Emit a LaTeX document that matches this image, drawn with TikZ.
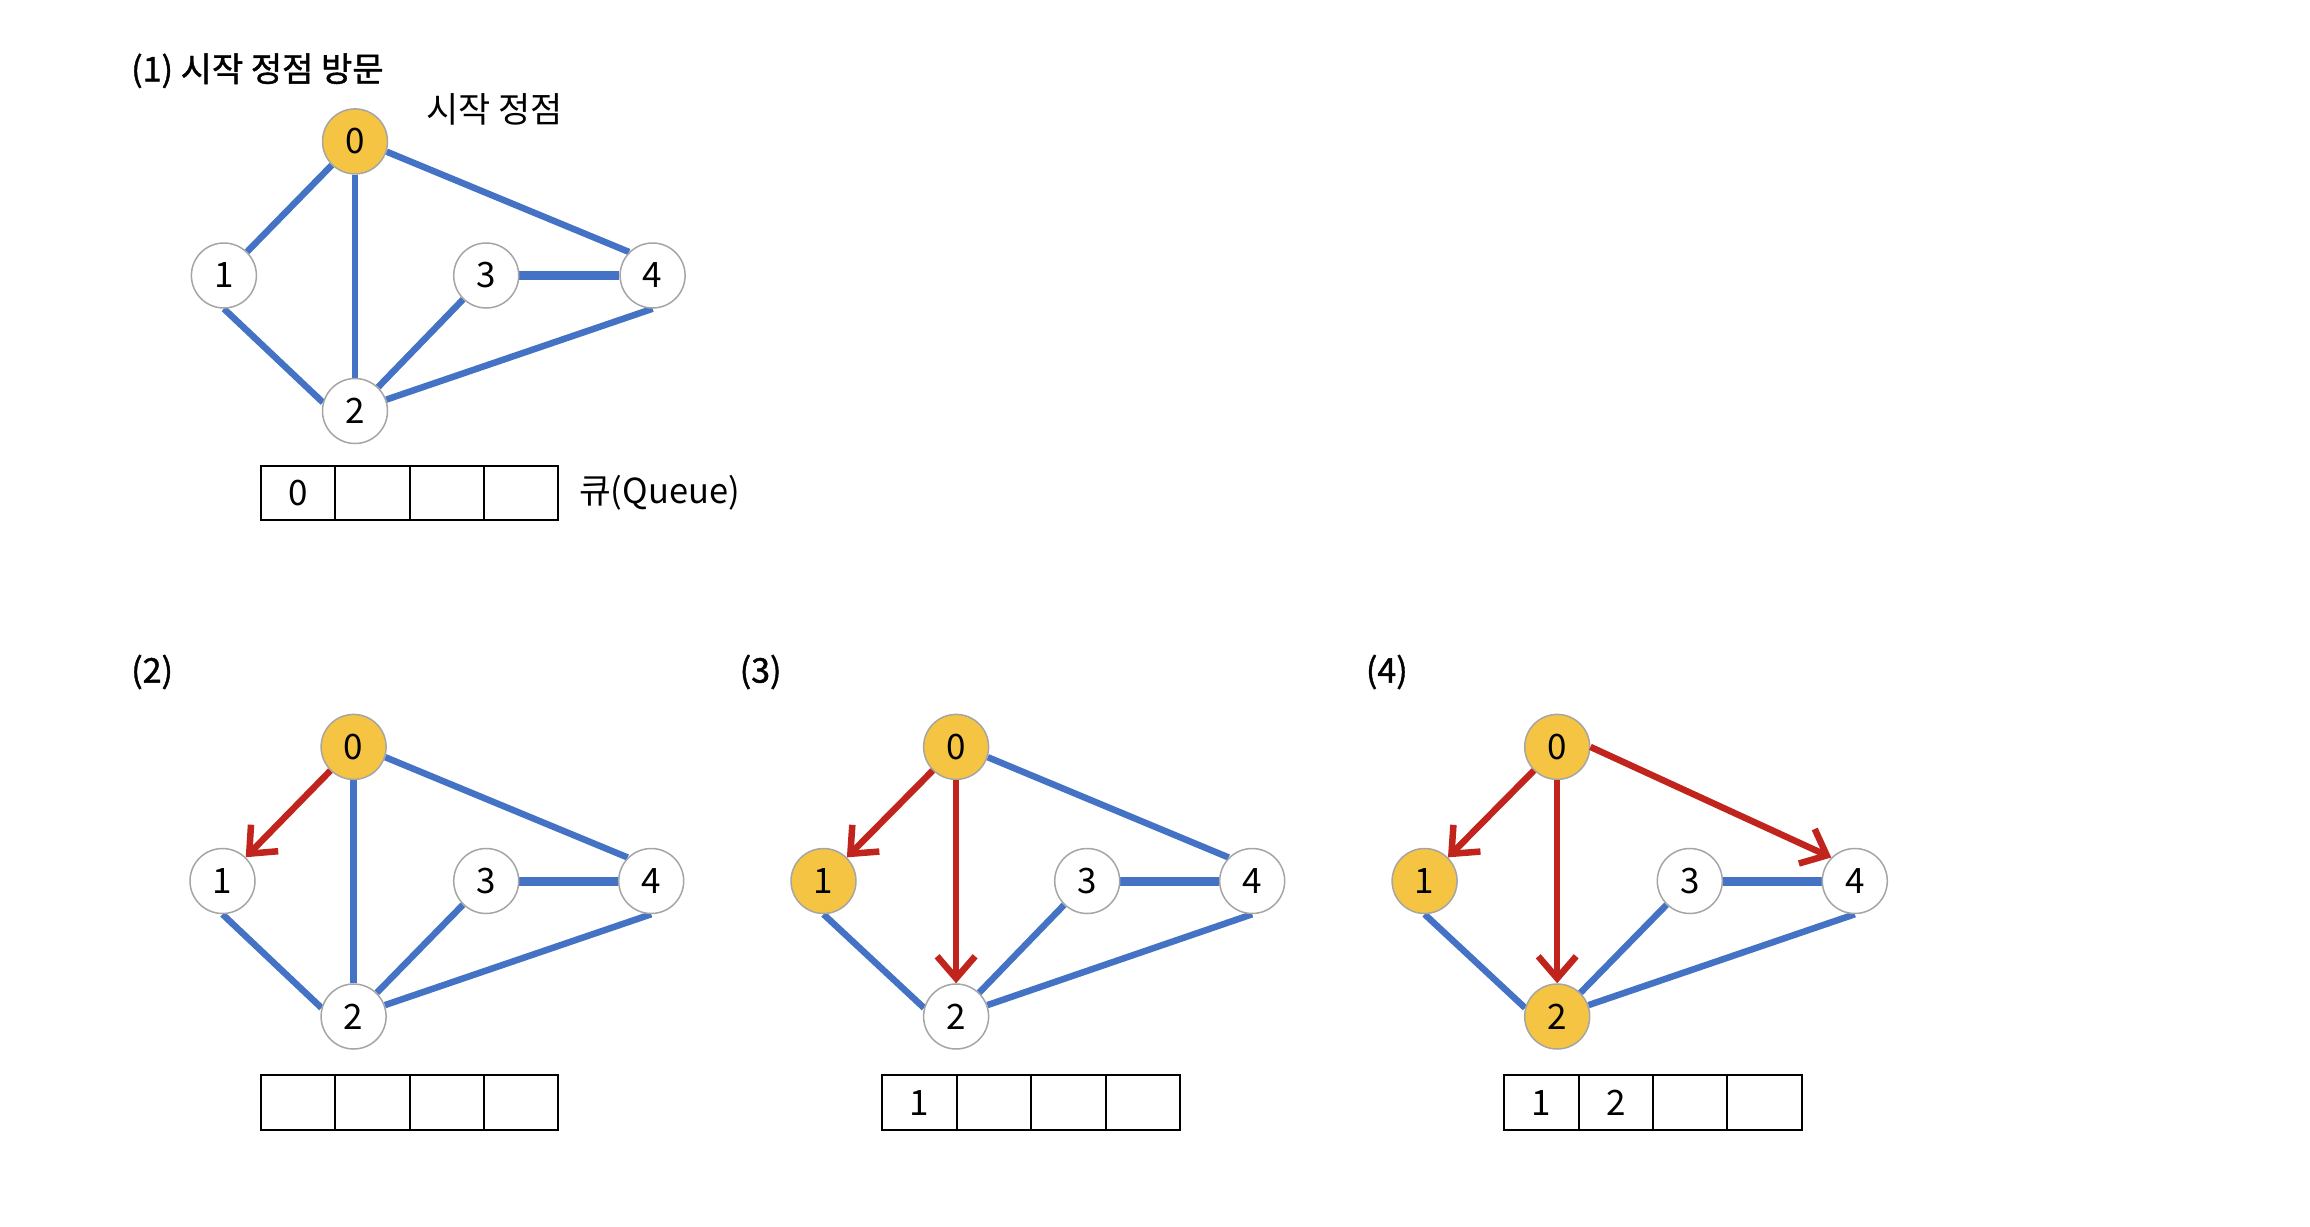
\documentclass[tikz,border=0pt]{standalone}
\usepackage{fontspec}
\setmainfont{Noto Sans CJK KR}
\newfontfamily\semib{Noto Sans CJK KR}[FakeBold=1.2]
\usetikzlibrary{arrows.meta,backgrounds}
\definecolor{eblue}{RGB}{68,114,196}
\definecolor{ered}{RGB}{192,36,28}
\definecolor{vyellow}{RGB}{245,196,66}
\definecolor{vgray}{RGB}{165,165,165}
\begin{document}
\begin{tikzpicture}[x=1pt,y=-1pt,
  vtx/.style={circle, draw=vgray, line width=1.5pt, fill=white, minimum size=65pt, inner sep=0pt, font=\fontsize{35}{36}\selectfont},
  vis/.style={vtx, fill=vyellow},
  edgeline/.style={draw=eblue, line width=6.5pt},
  wideline/.style={draw=eblue, line width=9pt},
  arr/.style={draw=ered, line width=6.5pt, -{Straight Barb[length=22pt,width=38pt]}},
  cell/.style={draw=black, line width=2pt, minimum width=74.4pt, minimum height=54.5pt, inner sep=0pt, outer sep=0pt, font=\fontsize{35}{36}\selectfont},
  lbl/.style={anchor=west, inner sep=0pt, font=\semib\fontsize{34}{36}\selectfont}
]
\useasboundingbox (0,0) rectangle (2310,1226);

% ---------- Panel 1 ----------
\node[lbl] (t1) at (131,70.7) {(1) 시작 정점 방문};
\node[lbl, font=\fontsize{35}{36}\selectfont] (start) at (425.8,109) {시작 정점};
\node[vis] (a0) at (355.0,141.4) {0};
\node[vtx] (a1) at (223.9,275.5) {1};
\node[vtx] (a3) at (486.2,275.5) {3};
\node[vtx] (a4) at (652.6,275.5) {4};
\node[vtx] (a2) at (355.0,411.0) {2};
\begin{pgfonlayer}{background}
\draw[edgeline] (a0) -- (a1);
\draw[edgeline] (a0) -- (a2);
\draw[edgeline] (a0.-18) -- (a4.135);
\draw[edgeline] (a1.south) -- (a2.165);
\draw[edgeline] (a2) -- (a3);
\draw[wideline] (a3) -- (a4);
\draw[edgeline] (a2.20) -- (a4.south);
\end{pgfonlayer}
\node[cell] (qa1) at (298.0,492.8) {0};
\node[cell, anchor=west] (qa2) at (qa1.east) {};
\node[cell, anchor=west] (qa3) at (qa2.east) {};
\node[cell, anchor=west] (qa4) at (qa3.east) {};
\node[lbl, font=\fontsize{34.5}{36}\selectfont] (qlabel) at (579,493) {큐(Queue)};

% ---------- Panel 2 ----------
\node[lbl] (t2) at (131,672) {(2)};
\node[vis] (b0) at (353.6,746.9) {0};
\node[vtx] (b1) at (222.5,881.0) {1};
\node[vtx] (b3) at (486.2,881.0) {3};
\node[vtx] (b4) at (651.2,881.0) {4};
\node[vtx] (b2) at (353.6,1016.5) {2};
\begin{pgfonlayer}{background}
\draw[edgeline] (b0) -- (b2);
\draw[edgeline] (b0.-18) -- (b4.135);
\draw[edgeline] (b1.south) -- (b2.165);
\draw[edgeline] (b2) -- (b3);
\draw[wideline] (b3) -- (b4);
\draw[edgeline] (b2.20) -- (b4.south);
\end{pgfonlayer}
\draw[arr] (b0) -- (b1);
\node[cell] (qb1) at (298.0,1102.7) {};
\node[cell, anchor=west] (qb2) at (qb1.east) {};
\node[cell, anchor=west] (qb3) at (qb2.east) {};
\node[cell, anchor=west] (qb4) at (qb3.east) {};

% ---------- Panel 3 ----------
\node[lbl] (t3) at (739.5,672) {(3)};
\node[vis] (c0) at (956.1,746.9) {0};
\node[vis] (c1) at (823.5,881.0) {1};
\node[vtx] (c3) at (1087.2,881.0) {3};
\node[vtx] (c4) at (1252.2,881.0) {4};
\node[vtx] (c2) at (956.1,1016.5) {2};
\begin{pgfonlayer}{background}
\draw[edgeline] (c0.-18) -- (c4.135);
\draw[edgeline] (c1.south) -- (c2.165);
\draw[edgeline] (c2) -- (c3);
\draw[wideline] (c3) -- (c4);
\draw[edgeline] (c2.20) -- (c4.south);
\end{pgfonlayer}
\draw[arr] (c0) -- (c1);
\draw[arr] (c0) -- (c2);
\node[cell] (qc1) at (919.6,1102.7) {1};
\node[cell, anchor=west] (qc2) at (qc1.east) {};
\node[cell, anchor=west] (qc3) at (qc2.east) {};
\node[cell, anchor=west] (qc4) at (qc3.east) {};

% ---------- Panel 4 ----------
\node[lbl] (t4) at (1365.7,672) {(4)};
\node[vis] (d0) at (1557.2,746.9) {0};
\node[vis] (d1) at (1424.6,881.0) {1};
\node[vtx] (d3) at (1689.8,881.0) {3};
\node[vtx] (d4) at (1854.8,881.0) {4};
\node[vis] (d2) at (1557.2,1016.5) {2};
\begin{pgfonlayer}{background}
\draw[edgeline] (d1.south) -- (d2.165);
\draw[edgeline] (d2) -- (d3);
\draw[wideline] (d3) -- (d4);
\draw[edgeline] (d2.20) -- (d4.south);
\end{pgfonlayer}
\draw[arr] (d0) -- (d1);
\draw[arr] (d0) -- (d2);
\draw[arr] (d0.east) -- (d4.135);
\node[cell] (qd1) at (1541.3,1102.7) {1};
\node[cell, anchor=west] (qd2) at (qd1.east) {2};
\node[cell, anchor=west] (qd3) at (qd2.east) {};
\node[cell, anchor=west] (qd4) at (qd3.east) {};
\end{tikzpicture}
\end{document}
